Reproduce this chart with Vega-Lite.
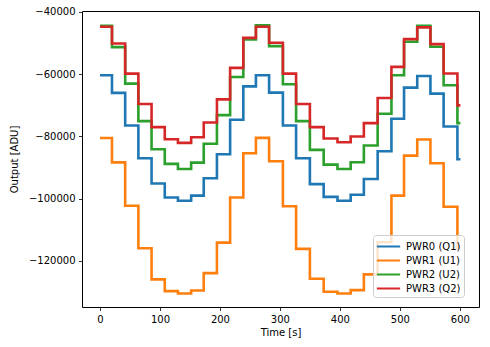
{
  "$schema": "https://vega.github.io/schema/vega-lite/v6.json",
  "width": 397,
  "height": 296,
  "autosize": "none",
  "padding": {"left": 82, "top": 11, "right": 11, "bottom": 40},
  "background": "white",
  "config": {
    "font": "DejaVu Sans",
    "view": {"stroke": "black", "strokeWidth": 1},
    "axis": {
      "grid": false, "domain": false, "tickColor": "black", "tickSize": 3.5, "tickWidth": 0.8,
      "labelColor": "black", "labelFontSize": 10, "labelPadding": 3.5, "labelFont": "DejaVu Sans",
      "titleColor": "black", "titleFontSize": 10, "titleFontWeight": "normal", "titleFont": "DejaVu Sans"
    }
  },
  "data": {
    "values": [
      {"t": 0, "a": -60300, "b": -80500, "c": -44400, "d": -44750},
      {"t": 20, "a": -66000, "b": -88300, "c": -51290, "d": -50100},
      {"t": 42, "a": -76450, "b": -102260, "c": -63000, "d": -59800},
      {"t": 64, "a": -87000, "b": -115910, "c": -75060, "d": -69580},
      {"t": 86, "a": -95100, "b": -125910, "c": -84100, "d": -77000},
      {"t": 108, "a": -99600, "b": -129680, "c": -88800, "d": -80870},
      {"t": 130, "a": -100650, "b": -130420, "c": -90420, "d": -82040},
      {"t": 152, "a": -99000, "b": -129460, "c": -88390, "d": -80220},
      {"t": 173, "a": -93400, "b": -123900, "c": -82350, "d": -75480},
      {"t": 195, "a": -85700, "b": -114100, "c": -73130, "d": -68070},
      {"t": 217, "a": -74600, "b": -99580, "c": -60870, "d": -57960},
      {"t": 239, "a": -63900, "b": -85400, "c": -48820, "d": -48300},
      {"t": 260, "a": -60300, "b": -80430, "c": -44300, "d": -44740},
      {"t": 282, "a": -65900, "b": -87970, "c": -50970, "d": -49900},
      {"t": 305, "a": -76450, "b": -102400, "c": -63230, "d": -59800},
      {"t": 327, "a": -87000, "b": -116100, "c": -75060, "d": -69580},
      {"t": 350, "a": -95300, "b": -125700, "c": -84300, "d": -77000},
      {"t": 373, "a": -99400, "b": -129900, "c": -89030, "d": -80650},
      {"t": 396, "a": -100650, "b": -130420, "c": -90420, "d": -81830},
      {"t": 418, "a": -98700, "b": -129350, "c": -88280, "d": -80000},
      {"t": 440, "a": -93650, "b": -124300, "c": -82900, "d": -75700},
      {"t": 463, "a": -84740, "b": -114000, "c": -72680, "d": -67640},
      {"t": 486, "a": -74300, "b": -99000, "c": -60320, "d": -57640},
      {"t": 507, "a": -64300, "b": -86130, "c": -49570, "d": -48710},
      {"t": 529, "a": -60540, "b": -80970, "c": -44400, "d": -44950},
      {"t": 551, "a": -66230, "b": -88610, "c": -51180, "d": -50320},
      {"t": 573, "a": -76770, "b": -102580, "c": -63550, "d": -59780},
      {"t": 596, "a": -87300, "b": -115800, "c": -75700, "d": -70000},
      {"t": 601, "a": -87300, "b": -115800, "c": -75700, "d": -70000}
    ]
  },
  "transform": [
    {"fold": ["a", "b", "c", "d"], "as": ["key", "v"]},
    {"lookup": "key", "from": {"data": {"values": [
      {"key": "a", "name": "PWR0 (Q1)"},
      {"key": "b", "name": "PWR1 (U1)"},
      {"key": "c", "name": "PWR2 (U2)"},
      {"key": "d", "name": "PWR3 (Q2)"}
    ]}, "key": "key", "fields": ["name"]}}
  ],
  "mark": {"type": "line", "interpolate": "step-after", "strokeWidth": 2.6, "clip": true},
  "encoding": {
    "x": {
      "field": "t", "type": "quantitative",
      "scale": {"domain": [-30, 632], "nice": false, "zero": false},
      "axis": {"values": [0, 100, 200, 300, 400, 500, 600], "title": "Time [s]", "titlePadding": 3, "format": "d"}
    },
    "y": {
      "field": "v", "type": "quantitative",
      "scale": {"domain": [-134780, -39680], "nice": false, "zero": false},
      "axis": {"values": [-120000, -100000, -80000, -60000, -40000], "title": "Output [ADU]", "titlePadding": 9, "format": "d"}
    },
    "color": {
      "field": "name", "type": "nominal",
      "scale": {"domain": ["PWR0 (Q1)", "PWR1 (U1)", "PWR2 (U2)", "PWR3 (Q2)"], "range": ["#1f77b4", "#ff7f0e", "#2ca02c", "#d62728"]},
      "legend": {
        "title": null, "orient": "none", "legendX": 291, "legendY": 224,
        "symbolType": "M-1.55,0H1.55", "symbolSize": 225, "symbolStrokeWidth": 2, "symbolOffset": 4,
        "labelFontSize": 10, "labelFont": "DejaVu Sans", "labelColor": "black", "labelOffset": 9,
        "rowPadding": 0, "padding": 3, "fillColor": "rgba(255,255,255,0.8)", "strokeColor": "#cccccc", "cornerRadius": 3
      }
    }
  }
}
